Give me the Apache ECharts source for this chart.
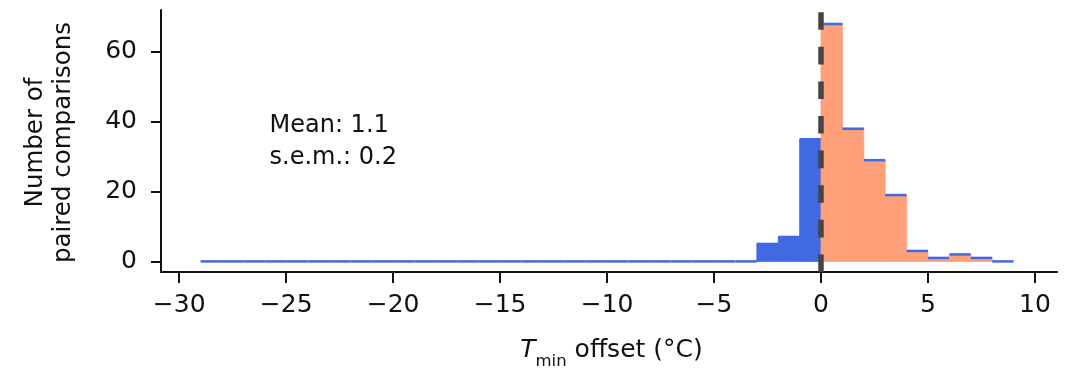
<!DOCTYPE html>
<html>
<head>
<meta charset="utf-8">
<script src="https://cdn.jsdelivr.net/npm/echarts@6/dist/echarts.min.js"></script>
<style>
  html, body { margin: 0; padding: 0; background: #fff; }
  #chart { width: 1081px; height: 373px; }
</style>
</head>
<body>
<div id="chart"></div>
<script>
// Histogram of Tmin offsets, 1 °C bins (left edges listed)
const binStarts = [-29, -28, -27, -26, -25, -24, -23, -22, -21, -20, -19, -18, -17, -16,
                   -15, -14, -13, -12, -11, -10, -9, -8, -7, -6, -5, -4,
                   -3, -2, -1, 0, 1, 2, 3, 4, 5, 6, 7, 8];
const counts    = [0, 0, 0, 0, 0, 0, 0, 0, 0, 0, 0, 0, 0, 0,
                   0, 0, 0, 0, 0, 0, 0, 0, 0, 0, 0, 0,
                   5, 7, 35, 68, 38, 29, 19, 3, 1, 2, 1, 0];
const binWidth = 1;
const xTicks = [-30, -25, -20, -15, -10, -5, 0, 5, 10];
const yTicks = [0, 20, 40, 60];
const refLineX = 0;
const statLines = ['Mean: 1.1', 's.e.m.: 0.2'];

const BLUE = '#4169e1';
const SALMON = '#ffa07a';
const INK = '#111111';
const FONT = 'DejaVu Sans';

const histData = binStarts.map((s, i) => [s, s + binWidth, counts[i]]);

function renderBin(params, api) {
  const x0 = api.value(0), x1 = api.value(1), n = api.value(2);
  const pBase = api.coord([x0, 0]);
  const pTop = api.coord([x1, n]);
  const fill = x0 < 0 ? BLUE : SALMON;
  const children = [];
  if (n > 0) {
    children.push({
      type: 'rect',
      shape: { x: pBase[0], y: pTop[1], width: pTop[0] - pBase[0], height: pBase[1] - pTop[1] },
      // same-colour hairline stroke hides seams between neighbouring bins
      style: { fill: fill, stroke: fill, lineWidth: 0.8 }
    });
  }
  children.push({
    type: 'line',
    shape: { x1: pBase[0], y1: pTop[1], x2: pTop[0], y2: pTop[1] },
    style: { stroke: BLUE, lineWidth: 2.5 }
  });
  return { type: 'group', children };
}

const chart = echarts.init(document.getElementById('chart'), null, { renderer: 'canvas' });

chart.setOption({
  animation: false,
  backgroundColor: '#ffffff',
  textStyle: { fontFamily: FONT },
  grid: { left: 161, right: 24, top: 10, bottom: 101, containLabel: false, outerBoundsMode: 'none' },
  xAxis: {
    type: 'value',
    min: -30.85,
    max: 11.03,
    splitLine: { show: false },
    axisLine: { onZero: false, lineStyle: { color: INK, width: 2 } },
    axisTick: { customValues: xTicks, length: 11, lineStyle: { color: INK, width: 2 } },
    axisLabel: {
      customValues: xTicks,
      margin: 21,
      fontSize: 25,
      fontFamily: FONT,
      color: INK,
      formatter: v => String(v).replace('-', '\u2212')
    }
  },
  yAxis: {
    type: 'value',
    min: -3.03,
    max: 72,
    splitLine: { show: false },
    axisLine: { onZero: false, lineStyle: { color: INK, width: 2 } },
    axisTick: { customValues: yTicks, length: 10, lineStyle: { color: INK, width: 2 } },
    axisLabel: {
      customValues: yTicks,
      margin: 24,
      fontSize: 25,
      fontFamily: FONT,
      color: INK
    }
  },
  graphic: [
    {
      type: 'text',
      x: 50,
      y: 142.5,
      rotation: Math.PI / 2,
      style: {
        text: 'Number of\npaired comparisons',
        fontSize: 24.5,
        fontFamily: FONT,
        fill: INK,
        lineHeight: 28,
        align: 'center',
        verticalAlign: 'middle'
      }
    },
    {
      type: 'text',
      x: 269.5,
      y: 125.7,
      style: { text: statLines[0], fontSize: 24, fontFamily: FONT, fill: INK, align: 'left', verticalAlign: 'middle' }
    },
    {
      type: 'text',
      x: 269.5,
      y: 158,
      style: { text: statLines[1], fontSize: 24, fontFamily: FONT, fill: INK, align: 'left', verticalAlign: 'middle' }
    },
    {
      // x-axis title: italic T with "min" subscript
      type: 'text',
      x: 611.5,
      y: 350,
      style: {
        text: '{i|T}{s|min}{r| offset (°C)}',
        fontSize: 24,
        fontFamily: FONT,
        fill: INK,
        align: 'center',
        verticalAlign: 'middle',
        rich: {
          i: { fontSize: 25, fontStyle: 'italic', fontFamily: FONT, fill: INK, lineHeight: 40, verticalAlign: 'middle' },
          s: { fontSize: 16.5, fontFamily: FONT, fill: INK, lineHeight: 17, verticalAlign: 'bottom' },
          r: { fontSize: 25, fontFamily: FONT, fill: INK, lineHeight: 40, verticalAlign: 'middle' }
        }
      }
    }
  ],
  series: [
    {
      type: 'custom',
      name: 'offsets',
      renderItem: renderBin,
      data: histData,
      encode: { x: [0, 1], y: 2 },
      silent: true,
      z: 2
    },
    {
      type: 'line',
      name: 'zero',
      data: [],
      silent: true,
      z: 5,
      markLine: {
        silent: true,
        symbol: 'none',
        label: { show: false },
        lineStyle: { color: '#454545', width: 5.5, type: [17.6, 17], cap: 'butt' },
        emphasis: { disabled: true },
        data: [{ xAxis: refLineX }]
      }
    }
  ]
});
</script>
</body>
</html>
